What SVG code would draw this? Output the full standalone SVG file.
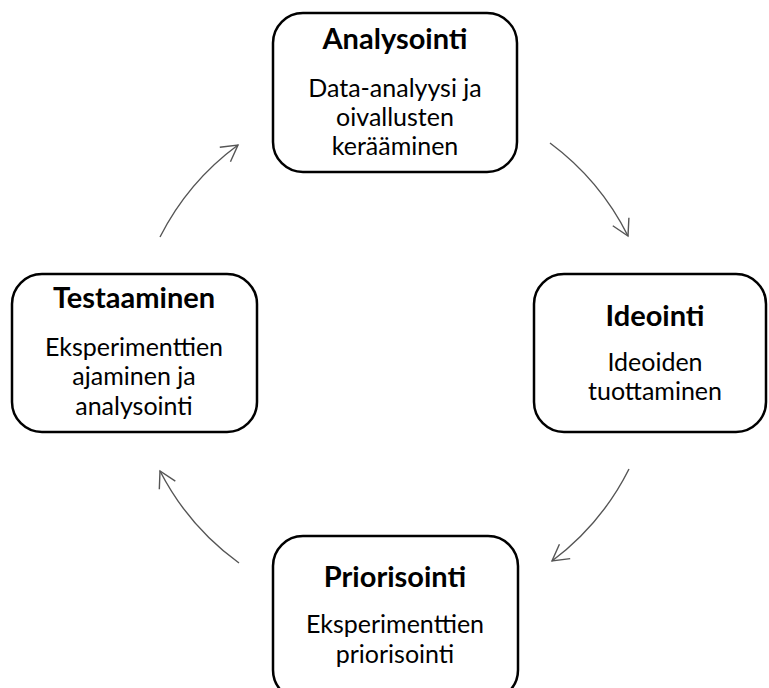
<svg xmlns="http://www.w3.org/2000/svg" width="769" height="688" viewBox="0 0 769 688">
  <style>
    .box { fill: #ffffff; stroke: #000000; stroke-width: 2.5; }
    .title { font-family: Lato, "Open Sans", "Liberation Sans", sans-serif; font-weight: bold; font-size: 29px; fill: #000000; text-anchor: middle; }
    .body { font-family: Lato, "Open Sans", "Liberation Sans", sans-serif; font-size: 25px; fill: #000000; text-anchor: middle; }
    .arc { fill: none; stroke: #555555; stroke-width: 1.4; marker-end: url(#head); }
  </style>
  <defs>
    <marker id="head" markerUnits="userSpaceOnUse" markerWidth="24" markerHeight="24" refX="18" refY="10" orient="auto">
      <path d="M2,1 L18,10 L2,19" fill="none" stroke="#555555" stroke-width="1.4"/>
    </marker>
  </defs>
  <rect width="769" height="688" fill="#ffffff"/>

  <!-- cycle connectors: arcs of one circle around the centre -->
  <g id="connectors">
    <path class="arc" d="M550,143 A261,261 0 0 1 628,236"/>
    <path class="arc" d="M629,469 A261,261 0 0 1 552,561"/>
    <path class="arc" d="M239,563 A261,261 0 0 1 160,471"/>
    <path class="arc" d="M160,237 A261,261 0 0 1 238,145"/>
  </g>

  <g id="analysointi">
    <rect class="box" x="273" y="13" width="244" height="159" rx="30"/>
    <text class="title" x="395" y="49">Analysointi</text>
    <text class="body" x="395" y="97">Data-analyysi ja</text>
    <text class="body" x="395" y="126">oivallusten</text>
    <text class="body" x="395" y="155">kerääminen</text>
  </g>

  <g id="ideointi">
    <rect class="box" x="534" y="274" width="232" height="158" rx="30"/>
    <text class="title" x="655" y="326">Ideointi</text>
    <text class="body" x="655" y="371">Ideoiden</text>
    <text class="body" x="655" y="400">tuottaminen</text>
  </g>

  <g id="testaaminen">
    <rect class="box" x="12" y="274" width="245" height="158" rx="30"/>
    <text class="title" x="134" y="308">Testaaminen</text>
    <text class="body" x="134" y="356">Eksperimenttien</text>
    <text class="body" x="134" y="385">ajaminen ja</text>
    <text class="body" x="134" y="415">analysointi</text>
  </g>

  <g id="priorisointi">
    <rect class="box" x="273" y="536" width="245" height="164" rx="30"/>
    <text class="title" x="395" y="587">Priorisointi</text>
    <text class="body" x="395" y="633">Eksperimenttien</text>
    <text class="body" x="395" y="663">priorisointi</text>
  </g>
</svg>
